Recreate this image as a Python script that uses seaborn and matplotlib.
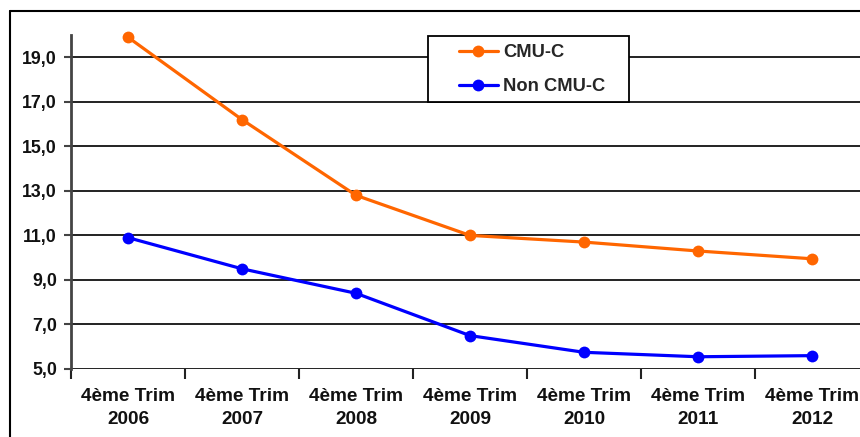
import matplotlib
matplotlib.use("Agg")
import matplotlib.pyplot as plt
import seaborn as sns
import pandas as pd
from matplotlib.lines import Line2D
from matplotlib.patches import Rectangle
from matplotlib.ticker import FixedLocator, FuncFormatter

categories = ["4ème Trim\n2006", "4ème Trim\n2007", "4ème Trim\n2008", "4ème Trim\n2009",
              "4ème Trim\n2010", "4ème Trim\n2011", "4ème Trim\n2012"]
cmu_c = [19.9, 16.2, 12.8, 11.0, 10.7, 10.3, 9.95]
non_cmu_c = [10.9, 9.5, 8.4, 6.5, 5.75, 5.55, 5.6]
series_names = ["CMU-C", "Non CMU-C"]
yticks = [5, 7, 9, 11, 13, 15, 17, 19]

df = pd.DataFrame({
    "x": list(range(len(categories))) * 2,
    "value": cmu_c + non_cmu_c,
    "serie": [series_names[0]] * len(categories) + [series_names[1]] * len(categories),
})

sns.set_theme(style="white")
plt.rcParams["font.family"] = ["Liberation Sans", "DejaVu Sans"]
plt.rcParams["font.weight"] = "bold"

fig = plt.figure(figsize=(8.6, 4.37), dpi=100)
W, H = 860, 437
ax = fig.add_axes([71 / W, 1 - 369 / H, 798 / W, (369 - 35) / H])

sns.lineplot(data=df, x="x", y="value", hue="serie", ax=ax,
             palette={"CMU-C": "#FF6600", "Non CMU-C": "#0000FF"},
             marker="o", markersize=8.5, markeredgewidth=0, linewidth=2.3,
             legend=False, clip_on=False, zorder=5)

ax.set_xlim(-0.5, len(categories) - 0.5)
ax.set_ylim(5, 20)
ax.set_xlabel("")
ax.set_ylabel("")

ax.set_yticks(yticks)
ax.yaxis.set_major_formatter(FuncFormatter(lambda v, p: f"{v:.1f}".replace(".", ",")))
ax.set_xticks(range(len(categories)))
ax.set_xticklabels(categories, linespacing=1.4)
ax.xaxis.set_minor_locator(FixedLocator([i - 0.5 for i in range(len(categories) + 1)]))
ax.tick_params(axis="x", which="major", length=0, pad=14, labelsize=13.7)
ax.tick_params(axis="x", which="minor", length=7, width=1.5, color="#222222", direction="out", bottom=True)
ax.tick_params(axis="y", which="major", length=5, width=1.5, color="#444444", direction="out",
               left=True, pad=5, labelsize=12.8)
for lab in ax.get_xticklabels() + ax.get_yticklabels():
    lab.set_fontweight("bold")
    lab.set_color("#111111")

ax.grid(axis="y", color="#111111", linewidth=1.3)
ax.grid(axis="x", visible=False)
for s in ["top", "right", "bottom"]:
    ax.spines[s].set_visible(False)
ax.spines["left"].set_color("#444444")
ax.spines["left"].set_linewidth(2)
ax.set_axisbelow(True)

# outer chart frame
fig.add_artist(Line2D([10 / W, 1.0], [1 - 11 / H, 1 - 11 / H], color="black", linewidth=1.5))
fig.add_artist(Line2D([10 / W, 10 / W], [0, 1 - 11 / H], color="black", linewidth=1.5))

# legend box
fig.add_artist(Rectangle((428 / W, 1 - 102 / H), 201 / W, 66 / H, facecolor="white",
                         edgecolor="black", linewidth=1.3, zorder=10))
handles = [Line2D([], [], color="#FF6600", marker="o", markersize=8.5, linewidth=2.3, markeredgewidth=0),
           Line2D([], [], color="#0000FF", marker="o", markersize=8.5, linewidth=2.3, markeredgewidth=0)]
leg = fig.legend(handles, series_names, loc="upper left", bbox_to_anchor=(459 / W, 1 - 44 / H),
                 frameon=False, borderpad=0, borderaxespad=0, handlelength=2.1,
                 handletextpad=0.3, labelspacing=0.95, prop={"weight": "bold", "size": 13.2})
leg.set_zorder(11)

fig.savefig("out.png", dpi=100)
